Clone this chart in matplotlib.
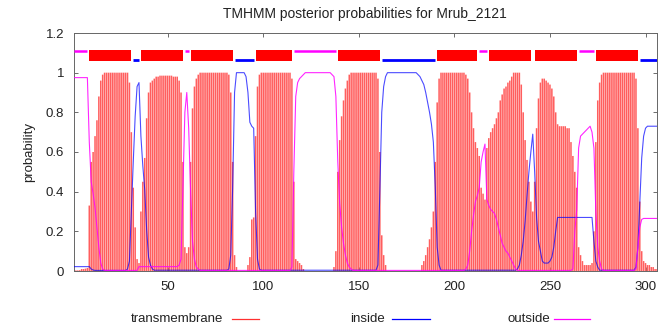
import numpy as np
import matplotlib
matplotlib.use("Agg")
import matplotlib.pyplot as plt
from matplotlib.patches import Rectangle
from matplotlib.lines import Line2D

plt.rcParams['font.family'] = ['Liberation Sans', 'DejaVu Sans']

# posterior probabilities per residue (1..306)
transmembrane = [
    0.003, 0.003, 0.003, 0.004, 0.01, 0.01, 0.012, 0.015, 0.33, 0.55,      # 1-10
    0.6, 0.68, 0.76, 0.88, 0.96, 0.99, 1.0, 1.0, 1.0, 1.0,                  # 11-20
    1.0, 1.0, 1.0, 1.0, 1.0, 1.0, 1.0, 1.0, 1.0, 0.95,                      # 21-30
    0.7, 0.42, 0.22, 0.06, 0.04, 0.3, 0.45, 0.57, 0.77, 0.9,                # 31-40
    0.95, 0.96, 0.97, 0.98, 0.98, 0.985, 0.985, 0.985, 0.985, 0.985,        # 41-50
    0.985, 0.985, 0.98, 0.98, 0.98, 0.96, 0.9, 0.55, 0.12, 0.09,            # 51-60
    0.12, 0.55, 0.82, 0.93, 0.97, 0.99, 1.0, 1.0, 1.0, 1.0,                 # 61-70
    1.0, 1.0, 1.0, 1.0, 1.0, 1.0, 1.0, 1.0, 1.0, 1.0,                       # 71-80
    1.0, 0.99, 0.9, 0.55, 0.08, 0.02, 0.0, 0.0, 0.0, 0.0,                   # 81-90
    0.0, 0.03, 0.07, 0.26, 0.27, 0.68, 0.93, 0.99, 1.0, 1.0,                # 91-100
    1.0, 1.0, 1.0, 1.0, 1.0, 1.0, 1.0, 1.0, 1.0, 1.0,                       # 101-110
    1.0, 1.0, 1.0, 1.0, 0.97, 0.45, 0.06, 0.05, 0.04, 0.03,                 # 111-120
    0.01, 0.0, 0.0, 0.0, 0.0, 0.0, 0.0, 0.0, 0.0, 0.0,                      # 121-130
    0.0, 0.0, 0.0, 0.0, 0.0, 0.0, 0.02, 0.1, 0.5, 0.66,                     # 131-140
    0.78, 0.86, 0.92, 0.96, 0.99, 1.0, 1.0, 1.0, 1.0, 1.0,                  # 141-150
    1.0, 1.0, 1.0, 1.0, 1.0, 1.0, 1.0, 1.0, 1.0, 0.97,                      # 151-160
    0.6, 0.18, 0.08, 0.03, 0.0, 0.0, 0.0, 0.0, 0.0, 0.0,                    # 161-170
    0.0, 0.0, 0.0, 0.0, 0.0, 0.0, 0.0, 0.0, 0.0, 0.0,                       # 171-180
    0.0, 0.0, 0.03, 0.05, 0.08, 0.12, 0.16, 0.22, 0.3, 0.55,                # 181-190
    0.85, 0.97, 1.0, 1.0, 1.0, 1.0, 1.0, 1.0, 1.0, 1.0,                     # 191-200
    1.0, 1.0, 1.0, 1.0, 1.0, 0.99, 0.97, 0.9, 0.8, 0.72,                    # 201-210
    0.65, 0.62, 0.58, 0.42, 0.39, 0.36, 0.62, 0.67, 0.7, 0.72,              # 211-220
    0.74, 0.77, 0.8, 0.86, 0.89, 0.92, 0.93, 0.95, 0.96, 0.98,              # 221-230
    1.0, 1.0, 1.0, 1.0, 0.94, 0.8, 0.66, 0.56, 0.45, 0.35,                  # 231-240
    0.3, 0.45, 0.72, 0.87, 0.95, 0.97, 0.97, 0.96, 0.95, 0.94,              # 241-250
    0.92, 0.88, 0.8, 0.74, 0.73, 0.73, 0.73, 0.73, 0.72, 0.72,              # 251-260
    0.65, 0.58, 0.5, 0.42, 0.12, 0.08, 0.05, 0.03, 0.03, 0.03,              # 261-270
    0.03, 0.04, 0.2, 0.65, 0.86, 0.95, 0.99, 1.0, 1.0, 1.0,                 # 271-280
    1.0, 1.0, 1.0, 1.0, 1.0, 1.0, 1.0, 1.0, 1.0, 1.0,                       # 281-290
    1.0, 1.0, 1.0, 1.0, 0.97, 0.72, 0.35, 0.1, 0.05, 0.04,                  # 291-300
    0.03, 0.03, 0.02, 0.02, 0.01, 0.01,                                     # 301-306
]

inside = [
    0.022, 0.022, 0.022, 0.022, 0.022, 0.022, 0.022, 0.022, 0.022, 0.01,    # 1-10
    0.005, 0.003, 0.003, 0.003, 0.003, 0.003, 0.003, 0.003, 0.003, 0.003,   # 11-20
    0.003, 0.003, 0.003, 0.003, 0.003, 0.003, 0.003, 0.003, 0.01, 0.05,     # 21-30
    0.3, 0.55, 0.78, 0.93, 0.95, 0.68, 0.53, 0.41, 0.21, 0.07,              # 31-40
    0.03, 0.01, 0.004, 0.004, 0.004, 0.004, 0.004, 0.004, 0.004, 0.004,     # 41-50
    0.004, 0.004, 0.004, 0.004, 0.004, 0.004, 0.004, 0.004, 0.004, 0.004,   # 51-60
    0.004, 0.004, 0.004, 0.004, 0.004, 0.004, 0.004, 0.004, 0.004, 0.004,   # 61-70
    0.004, 0.004, 0.004, 0.004, 0.004, 0.004, 0.004, 0.004, 0.004, 0.004,   # 71-80
    0.004, 0.01, 0.08, 0.42, 0.9, 1.0, 1.0, 1.0, 1.0, 1.0,                  # 81-90
    0.98, 0.9, 0.75, 0.73, 0.72, 0.3, 0.06, 0.01, 0.004, 0.004,             # 91-100
    0.004, 0.004, 0.004, 0.004, 0.004, 0.004, 0.004, 0.004, 0.004, 0.004,   # 101-110
    0.004, 0.004, 0.004, 0.004, 0.004, 0.004, 0.004, 0.004, 0.004, 0.004,   # 111-120
    0.004, 0.004, 0.004, 0.004, 0.004, 0.004, 0.004, 0.004, 0.004, 0.004,   # 121-130
    0.004, 0.004, 0.004, 0.004, 0.004, 0.004, 0.004, 0.004, 0.004, 0.004,   # 131-140
    0.004, 0.004, 0.004, 0.004, 0.004, 0.004, 0.004, 0.004, 0.004, 0.004,   # 141-150
    0.004, 0.004, 0.004, 0.004, 0.004, 0.004, 0.004, 0.004, 0.004, 0.03,    # 151-160
    0.4, 0.8, 0.93, 0.98, 1.0, 1.0, 1.0, 1.0, 1.0, 1.0,                     # 161-170
    1.0, 1.0, 1.0, 1.0, 1.0, 1.0, 1.0, 1.0, 1.0, 1.0,                       # 171-180
    0.99, 0.98, 0.96, 0.94, 0.9, 0.85, 0.8, 0.74, 0.65, 0.42,               # 181-190
    0.12, 0.03, 0.004, 0.004, 0.004, 0.004, 0.004, 0.004, 0.004, 0.004,     # 191-200
    0.004, 0.004, 0.004, 0.004, 0.004, 0.004, 0.004, 0.004, 0.004, 0.004,   # 201-210
    0.004, 0.004, 0.004, 0.004, 0.004, 0.004, 0.004, 0.004, 0.004, 0.004,   # 211-220
    0.004, 0.004, 0.004, 0.004, 0.004, 0.004, 0.004, 0.004, 0.004, 0.004,   # 221-230
    0.004, 0.004, 0.01, 0.03, 0.08, 0.15, 0.25, 0.38, 0.5, 0.6,             # 231-240
    0.69, 0.5, 0.27, 0.15, 0.1, 0.05, 0.04, 0.04, 0.04, 0.05,               # 241-250
    0.07, 0.12, 0.2, 0.27, 0.27, 0.27, 0.27, 0.27, 0.27, 0.27,              # 251-260
    0.27, 0.27, 0.27, 0.27, 0.27, 0.27, 0.27, 0.27, 0.27, 0.27,             # 261-270
    0.27, 0.27, 0.15, 0.05, 0.02, 0.004, 0.004, 0.004, 0.004, 0.004,        # 271-280
    0.004, 0.004, 0.004, 0.004, 0.004, 0.004, 0.004, 0.004, 0.004, 0.004,   # 281-290
    0.004, 0.004, 0.004, 0.004, 0.02, 0.12, 0.35, 0.57, 0.68, 0.72,         # 291-300
    0.73, 0.73, 0.73, 0.73, 0.73, 0.73,                                     # 301-306
]

outside = [
    0.975, 0.975, 0.975, 0.975, 0.975, 0.975, 0.975, 0.975, 0.65, 0.45,     # 1-10
    0.39, 0.32, 0.22, 0.12, 0.04, 0.01, 0.003, 0.003, 0.003, 0.003,         # 11-20
    0.003, 0.003, 0.003, 0.003, 0.003, 0.003, 0.003, 0.003, 0.003, 0.003,   # 21-30
    0.003, 0.003, 0.003, 0.003, 0.022, 0.022, 0.022, 0.022, 0.022, 0.022,   # 31-40
    0.022, 0.022, 0.022, 0.022, 0.022, 0.022, 0.022, 0.022, 0.022, 0.022,   # 41-50
    0.022, 0.022, 0.022, 0.022, 0.022, 0.03, 0.06, 0.42, 0.8, 0.9,          # 51-60
    0.72, 0.4, 0.15, 0.06, 0.02, 0.01, 0.003, 0.003, 0.003, 0.003,          # 61-70
    0.003, 0.003, 0.003, 0.003, 0.003, 0.003, 0.003, 0.003, 0.003, 0.003,   # 71-80
    0.003, 0.003, 0.003, 0.003, 0.003, 0.003, 0.003, 0.003, 0.003, 0.003,   # 81-90
    0.003, 0.003, 0.003, 0.003, 0.003, 0.003, 0.003, 0.003, 0.003, 0.003,   # 91-100
    0.003, 0.003, 0.003, 0.003, 0.003, 0.003, 0.003, 0.003, 0.003, 0.003,   # 101-110
    0.003, 0.003, 0.003, 0.003, 0.02, 0.5, 0.88, 0.95, 0.97, 0.98,          # 111-120
    0.99, 1.0, 1.0, 1.0, 1.0, 1.0, 1.0, 1.0, 1.0, 1.0,                      # 121-130
    1.0, 1.0, 1.0, 1.0, 1.0, 0.99, 0.98, 0.88, 0.55, 0.34,                  # 131-140
    0.22, 0.14, 0.08, 0.04, 0.02, 0.01, 0.003, 0.003, 0.003, 0.003,         # 141-150
    0.003, 0.003, 0.003, 0.003, 0.003, 0.003, 0.003, 0.003, 0.003, 0.003,   # 151-160
    0.003, 0.003, 0.003, 0.003, 0.003, 0.003, 0.003, 0.003, 0.003, 0.003,   # 161-170
    0.003, 0.003, 0.003, 0.003, 0.003, 0.003, 0.003, 0.003, 0.003, 0.003,   # 171-180
    0.003, 0.003, 0.003, 0.003, 0.003, 0.003, 0.003, 0.003, 0.003, 0.003,   # 181-190
    0.003, 0.003, 0.003, 0.003, 0.003, 0.003, 0.003, 0.003, 0.003, 0.003,   # 191-200
    0.003, 0.003, 0.003, 0.003, 0.003, 0.01, 0.03, 0.1, 0.2, 0.28,          # 201-210
    0.35, 0.38, 0.42, 0.55, 0.6, 0.64, 0.36, 0.33, 0.31, 0.3,               # 211-220
    0.29, 0.26, 0.22, 0.18, 0.14, 0.12, 0.1, 0.09, 0.07, 0.05,              # 221-230
    0.03, 0.01, 0.003, 0.003, 0.003, 0.003, 0.003, 0.003, 0.003, 0.003,     # 231-240
    0.003, 0.003, 0.003, 0.003, 0.003, 0.003, 0.003, 0.003, 0.003, 0.003,   # 241-250
    0.003, 0.003, 0.003, 0.003, 0.003, 0.003, 0.003, 0.003, 0.003, 0.003,   # 251-260
    0.003, 0.01, 0.2, 0.31, 0.62, 0.68, 0.69, 0.7, 0.71, 0.72,              # 261-270
    0.73, 0.7, 0.62, 0.3, 0.12, 0.05, 0.01, 0.003, 0.003, 0.003,            # 271-280
    0.003, 0.003, 0.003, 0.003, 0.003, 0.003, 0.003, 0.003, 0.003, 0.003,   # 281-290
    0.003, 0.003, 0.003, 0.003, 0.01, 0.12, 0.22, 0.26, 0.265, 0.265,       # 291-300
    0.265, 0.265, 0.265, 0.265, 0.265, 0.265,                               # 301-306
]

# predicted topology (start, end residue)
tm_segments = [(9, 31), (36, 58), (62, 84), (96, 115), (139, 161),
               (191, 212), (218, 240), (242, 264), (274, 296)]
inside_segments = [(32, 35), (85, 95), (162, 190), (241, 241), (297, 306)]
outside_segments = [(1, 8), (59, 61), (116, 138), (213, 217), (265, 273)]

seq_len = len(transmembrane)
residues = np.arange(1, seq_len + 1)

W, H = 659, 325
fig = plt.figure(figsize=(W / 100, H / 100), dpi=100)
ax = fig.add_axes([74 / W, 1 - 271 / H, (657 - 74) / W, (271 - 33) / H])

RED = '#ff0000'
BLUE = '#0000ff'
MAG = '#ff00ff'

bars = ax.bar(residues, transmembrane, width=0.8, color='#ff5e5e',
              linewidth=0, zorder=2)
for b in bars:
    b.set_snap(False)
ax.plot(residues, inside, color=BLUE, lw=0.8, alpha=0.7, zorder=3)
ax.plot(residues, outside, color=MAG, lw=0.8, alpha=0.85, zorder=3)

# topology bar on top
for s, e in tm_segments:
    ax.add_patch(Rectangle((s, 1.061), e - s, 0.054, facecolor=RED,
                           edgecolor='none', zorder=4))
for s, e in inside_segments:
    ax.plot([s, e], [1.066, 1.066], color=BLUE, lw=2.0,
            solid_capstyle='butt', zorder=4)
for s, e in outside_segments:
    ax.plot([s, e], [1.109, 1.109], color=MAG, lw=1.8,
            solid_capstyle='butt', zorder=4)

ax.set_xlim(1, seq_len)
ax.set_ylim(0, 1.2)
ax.set_xticks([50, 100, 150, 200, 250, 300])
ax.set_yticks([0, 0.2, 0.4, 0.6, 0.8, 1.0, 1.2])
ax.set_yticklabels(['0', '0.2', '0.4', '0.6', '0.8', '1', '1.2'])
ax.tick_params(direction='in', length=3, width=0.6, color='#555555',
               top=True, right=True, labelsize=9.5, labelcolor='#222222')
ax.tick_params(axis='x', pad=7)
ax.tick_params(axis='y', pad=7)
for sp in ax.spines.values():
    sp.set_color('#666666')
    sp.set_linewidth(0.7)

ax.set_ylabel('probability', fontsize=9.5, color='#222222', labelpad=8)

fig.text(365 / W, 1 - 14 / H, 'TMHMM posterior probabilities for Mrub_2121',
         ha='center', va='center', fontsize=10, color='#222222')

# legend row under the plot
ly = 1 - 318.5 / H
legend_items = [('transmembrane', 223, 232, 259, '#ff3030'),
                ('inside', 385, 392, 430, BLUE),
                ('outside', 550, 554, 590, MAG)]
for label, txt_right, l0, l1, col in legend_items:
    fig.text(txt_right / W, ly, label, ha='right', va='center',
             fontsize=9.5, color='#222222')
    fig.add_artist(Line2D([l0 / W, l1 / W], [ly, ly], color=col, lw=0.9))

fig.savefig('out.png', dpi=100)
